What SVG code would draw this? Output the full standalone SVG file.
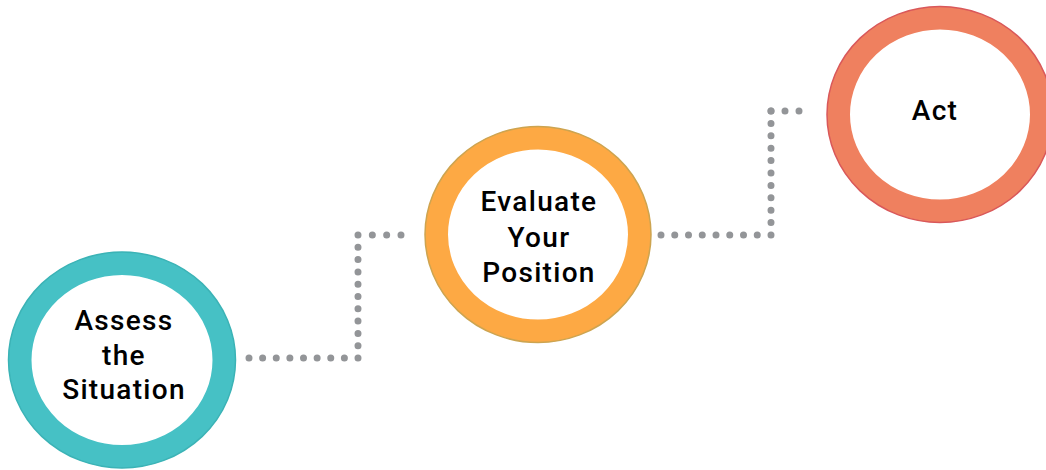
<svg xmlns="http://www.w3.org/2000/svg" width="1046" height="470" viewBox="0 0 1046 470">
<style>
.ring{fill:#fff;stroke-width:23}
.edge{fill:none;stroke-width:1.5}
.lbl{font-family:Roboto,"Liberation Sans",Arial,sans-serif;font-weight:500;font-size:28px;letter-spacing:1.3px;fill:#000;text-anchor:middle}
.dots{stroke:#939598;stroke-width:7;stroke-linecap:round;fill:none}
</style>
<rect width="1046" height="470" fill="#fff"/>
<g id="connectors">
<line class="dots" x1="249" y1="358" x2="358" y2="358" stroke-dasharray="0 13.625"/>
<line class="dots" x1="358" y1="358" x2="358" y2="235" stroke-dasharray="0 12.3"/>
<line class="dots" x1="358" y1="235" x2="401" y2="235" stroke-dasharray="0 14.33"/>
<line class="dots" x1="661" y1="235" x2="771" y2="235" stroke-dasharray="0 13.75"/>
<line class="dots" x1="771" y1="235" x2="771" y2="111" stroke-dasharray="0 12.4"/>
<line class="dots" x1="771" y1="111" x2="813" y2="111" stroke-dasharray="0 14"/>
</g>
<g id="node-assess">
<ellipse class="ring" cx="122" cy="360" rx="102" ry="96.5" stroke="#46C1C5"/>
<ellipse class="edge" cx="122" cy="360" rx="113.5" ry="108" stroke="#3BB3B6"/>
<text class="lbl" x="124" y="330">Assess</text>
<text class="lbl" x="124" y="365">the</text>
<text class="lbl" x="124" y="399">Situation</text>
</g>
<g id="node-evaluate">
<ellipse class="ring" cx="538" cy="234.5" rx="101.5" ry="96.5" stroke="#FDA944"/>
<ellipse class="edge" cx="538" cy="234.5" rx="113" ry="108" stroke="#CDA450"/>
<text class="lbl" x="539" y="211">Evaluate</text>
<text class="lbl" x="539" y="247">Your</text>
<text class="lbl" x="539" y="282">Position</text>
</g>
<g id="node-act">
<ellipse class="ring" cx="940" cy="114.5" rx="101.5" ry="96.5" stroke="#EF805F"/>
<ellipse class="edge" cx="940" cy="114.5" rx="113" ry="108" stroke="#D9585A"/>
<text class="lbl" x="935" y="120">Act</text>
</g>
</svg>
